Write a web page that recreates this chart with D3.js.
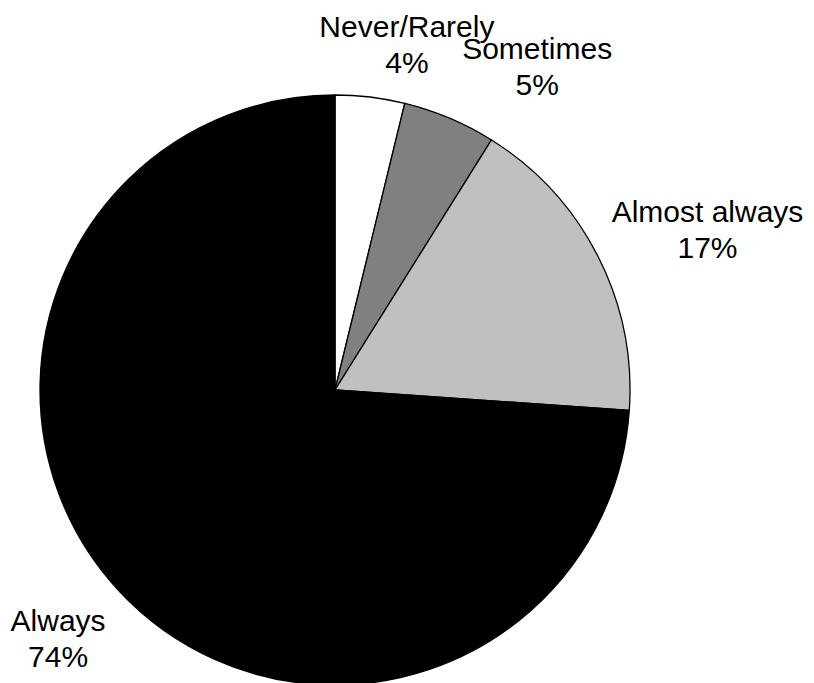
<!DOCTYPE html>
<html>
<head>
<meta charset="utf-8">
<script src="https://cdn.jsdelivr.net/npm/d3@7"></script>
<style>
  body { margin: 0; background: #fff; }
  svg { display: block; }
</style>
</head>
<body>
<svg id="chart" width="814" height="683"></svg>
<script>
// slice data, clockwise from 12 o'clock
const categories = ["Never/Rarely", "Sometimes", "Almost always", "Always"];
const values = [3.8, 5.1, 17.2, 73.9];
const pctLabels = ["4%", "5%", "17%", "74%"];
const fills = ["#ffffff", "#808080", "#c0c0c0", "#000000"];

// small nudges so labels sit where the original placed them
const labelNudge = [[32, -12], [72, -14], [74, -8], [-32, 20]];

const svg = d3.select("#chart");
const width = 814;
const height = 683;
const cx = 335, cy = 390, radius = 295;

const data = categories.map((c, i) => ({ name: c, value: values[i], pct: pctLabels[i], i: i }));

const pie = d3.pie()
    .value(d => d.value)
    .sort(null);

const arcs = pie(data);

const arc = d3.arc()
    .innerRadius(0)
    .outerRadius(radius);

const labelArc = d3.arc()
    .innerRadius(radius + 40)
    .outerRadius(radius + 40);

const g = svg.append("g")
    .attr("transform", `translate(${cx},${cy})`);

// draw slices
g.selectAll("path")
    .data(arcs)
    .join("path")
    .attr("d", arc)
    .attr("fill", d => fills[d.data.i])
    .attr("stroke", "#000")
    .attr("stroke-width", 1.3);

// labels: category on one line, percent below
const labels = g.selectAll("text")
    .data(arcs)
    .join("text")
    .attr("transform", d => {
        const [x, y] = labelArc.centroid(d);
        const n = labelNudge[d.data.i];
        return `translate(${x + n[0]},${y + n[1]})`;
    })
    .attr("text-anchor", "middle")
    .style("font-family", "'Liberation Sans', Arial, sans-serif")
    .style("font-size", "30px")
    .attr("fill", "#000");

labels.append("tspan")
    .attr("x", 0)
    .attr("y", -8)
    .text(d => d.data.name);

labels.append("tspan")
    .attr("x", 0)
    .attr("y", 28)
    .text(d => d.data.pct);
</script>
</body>
</html>
